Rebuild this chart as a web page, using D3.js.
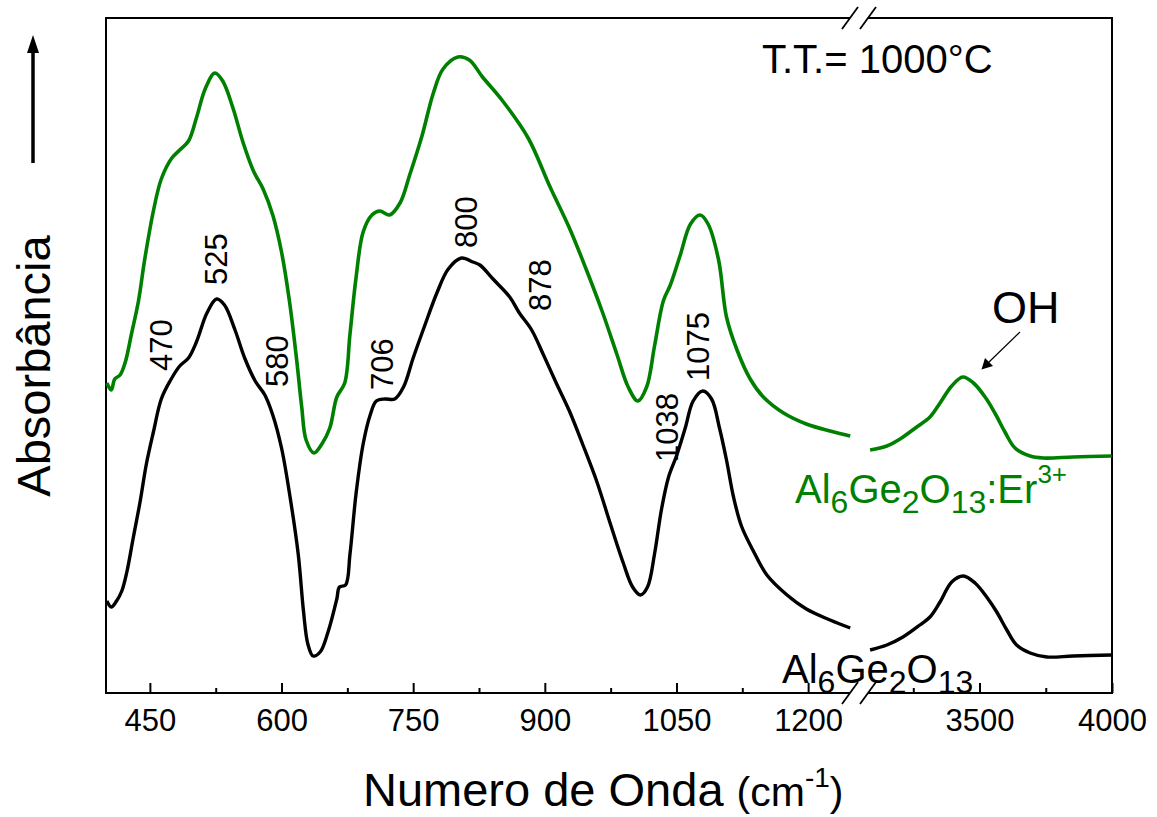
<!DOCTYPE html>
<html>
<head>
  <meta charset='utf-8' />
  <title>FTIR Al6Ge2O13</title>
  <style>
    body { margin: 0; background: #fff; }
    svg text { font-family: 'Liberation Sans', Arial, sans-serif; fill: #000; }
  </style>
</head>
<body>
<div id="wrapper"></div>
<script src='https://d3js.org/d3.v7.min.js' charset='utf-8'></script>
<script>
  // wavenumber (cm-1) / absorbance (a.u.)
  // low range 400-1250, high range 3030-4000 (broken axis)
  const blackLowWn = [401, 406, 412, 418, 424, 431, 439, 446, 454, 463, 473, 484, 494, 503, 515, 526, 535, 547, 558, 570,
    581, 590, 600, 609, 619, 625, 630, 636, 644, 653, 663, 666, 673, 678, 685, 693, 701, 708, 718, 729,
    739, 750, 763, 777, 790, 805, 818, 826, 841, 860, 871, 885, 898, 913, 928, 943, 959, 974, 989, 1000,
    1009, 1017, 1025, 1033, 1041, 1050, 1060, 1069, 1080, 1090, 1099, 1107, 1115, 1124, 1137, 1153, 1176, 1198, 1225, 1248]
  const blackLowAbs = [0.92, 0.86, 0.92, 1.02, 1.22, 1.55, 1.92, 2.29, 2.61, 2.94, 3.12, 3.27, 3.35, 3.51, 3.80, 3.94, 3.88, 3.63, 3.35, 3.12,
    2.98, 2.78, 2.45, 2.00, 1.39, 0.82, 0.49, 0.37, 0.41, 0.61, 0.94, 1.06, 1.08, 1.39, 2.00, 2.49, 2.78, 2.92, 2.94, 2.94,
    3.06, 3.35, 3.67, 4.00, 4.24, 4.35, 4.31, 4.28, 4.14, 3.96, 3.80, 3.63, 3.39, 3.10, 2.82, 2.49, 2.12, 1.71, 1.31, 1.06,
    0.98, 1.06, 1.39, 1.84, 2.16, 2.37, 2.65, 2.92, 3.02, 2.94, 2.65, 2.33, 1.96, 1.67, 1.43, 1.18, 0.98, 0.84, 0.73, 0.65]

  const greenLowWn = [401, 406, 410, 416, 422, 429, 437, 444, 454, 463, 475, 484, 494, 503, 513, 524, 533, 545, 556, 568,
    579, 590, 600, 609, 617, 623, 628, 637, 646, 655, 663, 672, 678, 685, 693, 703, 712, 723, 735, 746,
    760, 773, 784, 801, 814, 829, 852, 881, 906, 928, 947, 966, 982, 995, 1006, 1016, 1025, 1035, 1043, 1054,
    1066, 1077, 1086, 1098, 1107, 1119, 1134, 1149, 1172, 1198, 1225, 1248]
  const greenLowAbs = [3.10, 3.03, 3.14, 3.18, 3.31, 3.59, 3.92, 4.33, 4.82, 5.14, 5.35, 5.43, 5.52, 5.75, 6.04, 6.20, 6.12, 5.84, 5.51, 5.22,
    5.04, 4.78, 4.41, 3.92, 3.35, 2.86, 2.53, 2.40, 2.49, 2.65, 2.96, 3.10, 3.59, 4.16, 4.61, 4.78, 4.82, 4.78, 4.90, 5.18,
    5.57, 6.00, 6.24, 6.36, 6.33, 6.16, 5.92, 5.55, 5.06, 4.65, 4.24, 3.80, 3.39, 3.06, 2.92, 3.06, 3.47, 3.92, 4.08, 4.37,
    4.69, 4.78, 4.69, 4.33, 3.76, 3.43, 3.14, 2.96, 2.80, 2.69, 2.62, 2.57]

  const blackHighWn = [3087, 3150, 3211, 3275, 3313, 3351, 3395, 3439, 3483, 3527, 3565, 3603, 3640, 3691, 3754, 3853, 3999]
  const blackHighAbs = [0.43, 0.48, 0.56, 0.68, 0.76, 0.91, 1.11, 1.17, 1.10, 0.96, 0.81, 0.63, 0.48, 0.40, 0.36, 0.37, 0.38]

  const greenHighWn = [3087, 3150, 3200, 3263, 3313, 3351, 3395, 3437, 3477, 3521, 3558, 3596, 3634, 3691, 3740, 3853, 3999]
  const greenHighAbs = [2.43, 2.47, 2.54, 2.66, 2.76, 2.90, 3.07, 3.16, 3.10, 2.96, 2.80, 2.61, 2.45, 2.37, 2.35, 2.36, 2.37]

  const lowTicks = [450, 600, 750, 900, 1050, 1200]
  const lowMinor = [525, 675, 825, 975, 1125]
  const highTicks = [3500, 4000]
  const highMinor = [3250, 3750]

  // peak labels: text, wavenumber at label centre, absorbance at label start
  const peakText = ['470', '525', '580', '706', '800', '878', '1038', '1075']
  const peakWn = [463, 525, 595, 714, 810, 894, 1039, 1075]
  const peakAbs = [3.22, 4.08, 3.06, 3.03, 4.45, 3.82, 2.31, 3.12]

  const svg = d3.select('#wrapper')
    .append('svg')
      .attr('width', 1157)
      .attr('height', 817)

  const xLow = d3.scaleLinear().domain([400, 1250]).range([106, 852])
  const xHigh = d3.scaleLinear().domain([3030, 4000]).range([855, 1112])
  const y = d3.scaleLinear().domain([0, 6.75]).range([693, 18])

  const brk1 = 850, brk2 = 868
  const yTop = y.range()[1], yBottom = y.range()[0]

  // frame lines
  const frame = svg.append('g').attr('stroke', '#000').attr('stroke-width', 2).attr('fill', 'none')
  frame.append('line').attr('x1', xLow(400)).attr('x2', xLow(400)).attr('y1', yTop).attr('y2', yBottom)
  frame.append('line').attr('x1', xHigh(4000)).attr('x2', xHigh(4000)).attr('y1', yTop).attr('y2', yBottom)
  ;[yTop, yBottom].forEach(yy => {
    frame.append('line').attr('x1', xLow(400) - 1).attr('x2', brk1).attr('y1', yy).attr('y2', yy)
    frame.append('line').attr('x1', brk2).attr('x2', xHigh(4000) + 1).attr('y1', yy).attr('y2', yy)
    ;[brk1, brk2].forEach(bx => {
      frame.append('line')
        .attr('stroke-width', 1.8)
        .attr('x1', bx - 8).attr('y1', yy + 11)
        .attr('x2', bx + 8).attr('y2', yy - 11)
    })
  })

  // bottom axes (ticks pointing inward)
  const drawAxis = (scale, major, minor) => {
    const g = svg.append('g').attr('transform', `translate(0,${yBottom})`)
    g.call(d3.axisBottom(scale).tickValues(major).tickFormat(d3.format('d'))
      .tickSize(-10).tickSizeOuter(0).tickPadding(16))
    g.select('.domain').remove()
    g.selectAll('.tick line').attr('stroke-width', 2)
    g.selectAll('.tick text').attr('font-size', 31).attr('font-family', "'Liberation Sans', Arial, sans-serif")
    const m = svg.append('g').attr('transform', `translate(0,${yBottom})`)
    m.call(d3.axisBottom(scale).tickValues(minor).tickSize(-5).tickFormat(''))
    m.select('.domain').remove()
    m.selectAll('.tick line').attr('stroke-width', 2)
  }
  drawAxis(xLow, lowTicks, lowMinor)
  drawAxis(xHigh, highTicks, highMinor)

  // spectra
  const toPts = (wn, ab) => wn.map((w, i) => [w, ab[i]])
  const lineLow = d3.line().x(d => xLow(d[0])).y(d => y(d[1])).curve(d3.curveCatmullRom.alpha(0.5))
  const lineHigh = d3.line().x(d => xHigh(d[0])).y(d => y(d[1])).curve(d3.curveCatmullRom.alpha(0.5))

  const series = [
    { low: toPts(blackLowWn, blackLowAbs), high: toPts(blackHighWn, blackHighAbs), color: '#000000', w: 3.4 },
    { low: toPts(greenLowWn, greenLowAbs), high: toPts(greenHighWn, greenHighAbs), color: '#008000', w: 3.6 }
  ]
  series.forEach(s => {
    svg.append('path').attr('d', lineLow(s.low)).attr('fill', 'none')
      .attr('stroke', s.color).attr('stroke-width', s.w).attr('stroke-linejoin', 'round')
    svg.append('path').attr('d', lineHigh(s.high)).attr('fill', 'none')
      .attr('stroke', s.color).attr('stroke-width', s.w).attr('stroke-linejoin', 'round')
  })

  // peak labels (rotated)
  peakText.forEach((t, i) => {
    svg.append('text')
      .attr('transform', `translate(${xLow(peakWn[i]) + 11},${y(peakAbs[i])}) rotate(-90)`)
      .attr('font-size', 31)
      .text(t)
  })

  // sample labels
  const formula = (x0, y0, color, extra) => {
    const t = svg.append('text').attr('x', x0).attr('y', y0).style('fill', color)
    const parts = [['Al', 0], ['6', 1], ['Ge', 0], ['2', 1], ['O', 0], ['13', 1]]
    if (extra) parts.push([':Er', 0], ['3+', 2])
    let cur = 0
    parts.forEach(p => {
      const shift = p[1] === 1 ? 10 : (p[1] === 2 ? -20 : 0)
      t.append('tspan').attr('dy', shift - cur)
        .attr('font-size', p[1] === 0 ? 40 : (p[1] === 1 ? 32 : 26))
        .text(p[0])
      cur = shift
    })
  }
  formula(795, 503, '#008000', true)
  formula(782, 683, '#000000', false)

  svg.append('text').attr('x', 762).attr('y', 73).attr('font-size', 40).text('T.T.= 1000°C')
  svg.append('text').attr('x', 992).attr('y', 323).attr('font-size', 45).text('OH')

  // OH arrow
  svg.append('line').attr('x1', 1020).attr('y1', 332).attr('x2', 988).attr('y2', 363)
    .attr('stroke', '#000').attr('stroke-width', 1.2)
  svg.append('path').attr('d', 'M981.5,369.5 L985,358 L993,366 Z').attr('fill', '#000')

  // axis titles
  const xt = svg.append('text').attr('x', 363).attr('y', 806).attr('font-size', 47)
  xt.append('tspan').text('Numero de Onda ')
  xt.append('tspan').attr('font-size', 41).text('(cm')
  xt.append('tspan').attr('font-size', 28).attr('dy', -19).text('-1')
  xt.append('tspan').attr('font-size', 41).attr('dy', 19).text(')')

  svg.append('text')
    .attr('transform', 'translate(50,366) rotate(-90)')
    .attr('text-anchor', 'middle')
    .attr('font-size', 47)
    .text('Absorbância')

  // up arrow beside the y title
  svg.append('line').attr('x1', 33).attr('x2', 33).attr('y1', 163).attr('y2', 48)
    .attr('stroke', '#000').attr('stroke-width', 3.5)
  svg.append('path').attr('d', 'M33,35 L27,53 L39,53 Z').attr('fill', '#000')
</script>
</body>
</html>
